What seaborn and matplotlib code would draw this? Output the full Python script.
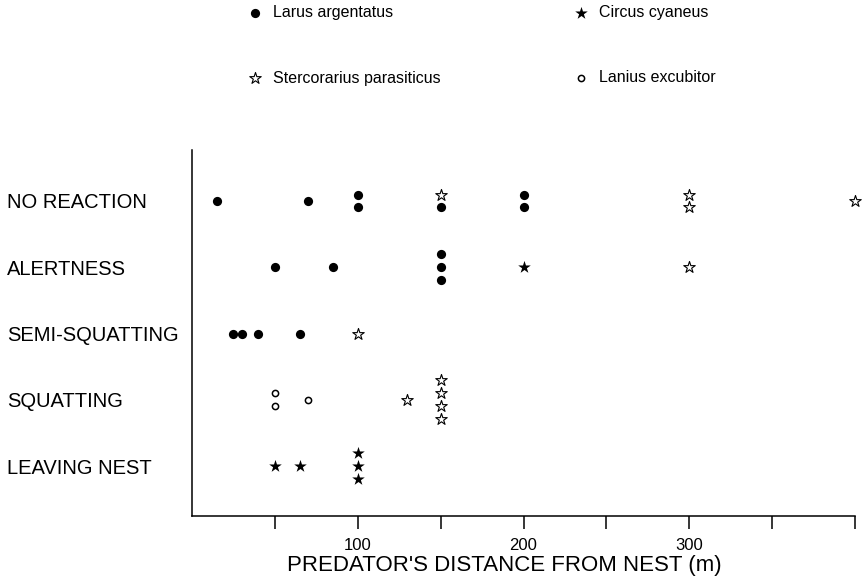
import matplotlib
matplotlib.use("Agg")
import matplotlib.pyplot as plt
import seaborn as sns
import pandas as pd

sns.set_style("white")
plt.rcParams["font.family"] = ["Liberation Sans", "DejaVu Sans"]
for k in ["text.color", "axes.labelcolor", "xtick.color", "ytick.color", "axes.edgecolor"]:
    plt.rcParams[k] = "black"

# ---------------- data ----------------
behaviours = ["NO REACTION", "ALERTNESS", "SEMI-SQUATTING", "SQUATTING", "LEAVING NEST"]
LA = "Larus argentatus"
CC = "Circus cyaneus"
SP = "Stercorarius parasiticus"
LE = "Lanius excubitor"
species_names = [LA, CC, SP, LE]

no_reaction_sp = [LA, LA, LA, LA, SP, LA, LA, LA, SP, SP, SP]
no_reaction_dist = [15, 70, 100, 100, 150, 150, 200, 200, 300, 300, 400]

alertness_sp = [LA, LA, LA, LA, LA, CC, SP]
alertness_dist = [50, 85, 150, 150, 150, 200, 300]

semi_squatting_sp = [LA, LA, LA, LA, SP]
semi_squatting_dist = [25, 30, 40, 65, 100]

squatting_sp = [LE, LE, LE, SP, SP, SP, SP, SP]
squatting_dist = [50, 50, 70, 130, 150, 150, 150, 150]

leaving_nest_sp = [CC, CC, CC, CC, CC]
leaving_nest_dist = [50, 65, 100, 100, 100]

x_ticks = [50, 100, 150, 200, 250, 300, 350, 400]
x_ticklabels = ["", "100", "", "200", "", "300", "", ""]

# ---------------- table ----------------
rows = []
for beh, sps, dists in [
    ("NO REACTION", no_reaction_sp, no_reaction_dist),
    ("ALERTNESS", alertness_sp, alertness_dist),
    ("SEMI-SQUATTING", semi_squatting_sp, semi_squatting_dist),
    ("SQUATTING", squatting_sp, squatting_dist),
    ("LEAVING NEST", leaving_nest_sp, leaving_nest_dist),
]:
    for s, d in zip(sps, dists):
        rows.append({"behaviour": beh, "species": s, "distance": d})
df = pd.DataFrame(rows)
df["row"] = df["behaviour"].map({b: i for i, b in enumerate(behaviours)})
grp = df.groupby(["behaviour", "distance"])
df["k"] = grp.cumcount()
df["n"] = grp["distance"].transform("size")
STACK = 0.196
df["ypos"] = df["row"] + (df["k"] - (df["n"] - 1) / 2) * STACK

# ---------------- figure ----------------
W, H = 863, 576
fig = plt.figure(figsize=(W / 100, H / 100), dpi=100)
ax_left, ax_right, ax_top, ax_bot = 192, 855, 150, 515.5
ax = fig.add_axes([ax_left / W, 1 - ax_bot / H, (ax_right - ax_left) / W, (ax_bot - ax_top) / H])

styles = {
    LA: dict(marker="o", s=44, color="black", edgecolor="black", linewidth=0),
    CC: dict(marker="*", s=90, color="black", edgecolor="black", linewidth=0),
    SP: dict(marker="*", s=75, color="white", edgecolor="black", linewidth=0.8),
    LE: dict(marker="o", s=20, color="white", edgecolor="black", linewidth=1.1),
}
for sp in species_names:
    sub = df[df["species"] == sp]
    sns.scatterplot(data=sub, x="distance", y="ypos", ax=ax, label=sp,
                    clip_on=False, zorder=3, legend=False, **styles[sp])

ax.set_xlim(0, 400)
ax.set_ylim(4 + 49.5 / 66.25, -51 / 66.25)

ax.set_xticks(x_ticks)
ax.set_xticklabels(x_ticklabels, fontsize=12)
ax.tick_params(axis="x", direction="out", length=9.5, width=1.1, color="black", pad=7, bottom=True)
ax.set_yticks(range(len(behaviours)))
ax.set_yticklabels(behaviours, fontsize=14.5, ha="left")
ax.tick_params(axis="y", length=0, pad=(ax_left - 7) * 72 / 100)

for side in ["top", "right"]:
    ax.spines[side].set_visible(False)
for side in ["left", "bottom"]:
    ax.spines[side].set_color("black")
    ax.spines[side].set_linewidth(1.1)

ax.set_xlabel("PREDATOR'S DISTANCE FROM NEST (m)", fontsize=16)
ax.set_ylabel("")
ax.xaxis.set_label_coords((504 - ax_left) / (ax_right - ax_left), -(555 - ax_bot) / (ax_bot - ax_top))

# ---------------- legend ----------------
handles, labels = ax.get_legend_handles_labels()
hmap = dict(zip(labels, handles))
order = [LA, SP, CC, LE]
LFS = 11.5
fs_px = LFS * 100 / 72


def make_legend(xa, ya, colsp, labsp):
    return fig.legend([hmap[o] for o in order], order, loc="upper left",
                      bbox_to_anchor=(xa, ya), ncol=2, frameon=False, fontsize=LFS,
                      handlelength=0.8, handletextpad=0.7, columnspacing=colsp,
                      labelspacing=labsp, borderpad=0, borderaxespad=0, scatterpoints=1)


xa, ya, colsp, labsp = 0.28, 0.99, 10.0, 3.4
leg = make_legend(xa, ya, colsp, labsp)
fig.canvas.draw()
r = fig.canvas.get_renderer()
e = [t.get_window_extent(r) for t in leg.get_texts()]
dx = 273 - e[0].x0
dcol = 599 - (e[2].x0 + dx)
cur_gap = (e[0].y0 + e[0].y1) / 2 - (e[1].y0 + e[1].y1) / 2
drow = 65 - cur_gap
dy = (H - 13) - (e[0].y0 + e[0].y1) / 2
leg.remove()
leg = make_legend(xa + dx / W, ya + dy / H, colsp + dcol / fs_px, labsp + drow / fs_px)

fig.savefig("out.png", dpi=100)
